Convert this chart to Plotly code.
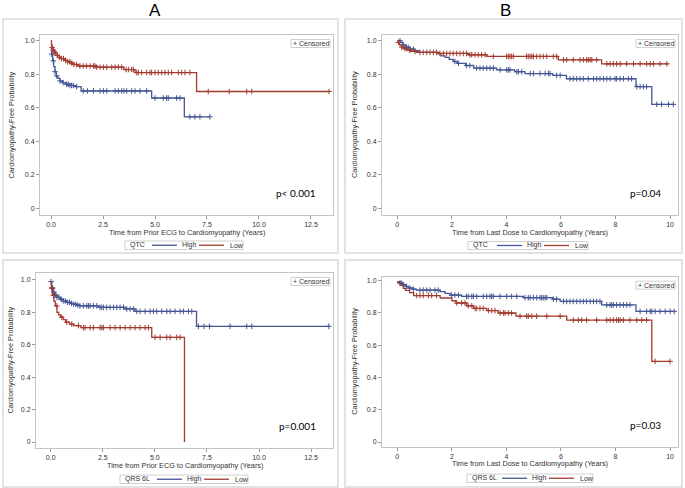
import numpy as np
import plotly.graph_objects as go

W, H = 685, 488
BLUE = "#445694"
RED = "#A23A2E"

# ---------------- data ----------------
# Panel A (top): QTC, time from prior ECG
a1_high_t = [0, 0.03, 0.08, 0.13, 0.19, 0.25, 0.33, 0.43, 0.55, 0.70, 0.90, 1.10, 1.45, 4.84, 6.41, 7.64]
a1_high_s = [0.955, 0.92, 0.88, 0.845, 0.815, 0.79, 0.775, 0.76, 0.75, 0.74, 0.733, 0.726, 0.70, 0.658, 0.546, 0.546]
a1_high_c = [0.03, 0.11, 0.19, 0.27, 0.43, 0.59, 0.75, 0.83, 0.91, 0.99, 1.07, 1.23, 1.55, 1.75, 2.04, 2.36,
             2.52, 2.68, 3.08, 3.24, 3.40, 3.51, 3.64, 3.88, 4.04, 4.28, 4.60, 5.00, 5.40, 5.56, 5.64, 6.04,
             6.20, 6.68, 6.92, 7.16, 7.64]
a1_low_t = [0, 0.02, 0.05, 0.10, 0.15, 0.20, 0.30, 0.40, 0.50, 0.65, 0.80, 0.95, 1.10, 1.30, 2.20, 3.50, 4.04, 7.00, 13.37]
a1_low_s = [1.0, 0.975, 0.96, 0.945, 0.935, 0.925, 0.912, 0.902, 0.893, 0.882, 0.874, 0.866, 0.858, 0.849, 0.842, 0.828, 0.81, 0.697, 0.697]
a1_low_c = [0.05, 0.10, 0.15, 0.20, 0.30, 0.40, 0.50, 0.60, 0.70, 0.80, 0.90, 1.00, 1.10, 1.23, 1.39, 1.55,
            1.71, 1.88, 2.04, 2.12, 2.20, 2.36, 2.52, 2.68, 2.92, 3.08, 3.24, 3.40, 3.61, 3.72, 3.88, 3.96,
            4.12, 4.20, 4.36, 4.60, 4.76, 4.84, 5.00, 5.16, 5.32, 5.48, 5.64, 5.80, 6.12, 6.28, 6.44, 6.68,
            7.56, 8.57, 9.41, 9.65, 13.37]

# Panel A (bottom): QRS 6L, time from prior ECG
a2_high_t = [0, 0.05, 0.12, 0.20, 0.30, 0.45, 0.60, 0.77, 0.95, 1.10, 1.25, 1.40, 2.30, 3.57, 4.05, 7.00, 13.35]
a2_high_s = [0.99, 0.95, 0.925, 0.907, 0.893, 0.881, 0.871, 0.862, 0.855, 0.85, 0.845, 0.84, 0.831, 0.821, 0.806, 0.714, 0.714]
a2_high_c = [0.02, 0.06, 0.10, 0.15, 0.20, 0.25, 0.30, 0.40, 0.50, 0.60, 0.70, 0.80, 0.90, 1.00, 1.10, 1.20,
             1.30, 1.40, 1.57, 1.73, 1.81, 1.89, 2.05, 2.21, 2.37, 2.45, 2.53, 2.69, 2.85, 3.01, 3.17, 3.33,
             3.49, 3.65, 3.81, 3.97, 4.13, 4.29, 4.53, 4.77, 4.93, 5.09, 5.33, 5.57, 5.73, 5.97, 6.21, 6.37,
             6.61, 6.77, 7.09, 7.36, 7.62, 8.61, 9.41, 9.65, 13.35]
a2_low_t = [0, 0.03, 0.08, 0.15, 0.22, 0.30, 0.38, 0.47, 0.60, 0.72, 0.90, 1.10, 1.45, 4.85, 6.42]
a2_low_s = [0.99, 0.95, 0.905, 0.87, 0.84, 0.80, 0.785, 0.77, 0.755, 0.74, 0.728, 0.718, 0.706, 0.646, 0.0]
a2_low_c = [0.05, 0.13, 0.29, 0.53, 0.77, 1.01, 1.33, 1.57, 1.65, 1.89, 2.05, 2.37, 2.45, 2.53, 2.85, 3.09,
            3.33, 3.57, 3.81, 4.05, 4.29, 4.53, 4.69, 5.01, 5.25, 5.57, 5.73, 6.05, 6.21]

# Panel B (top): QTC, time from last dose
b1_high_t = [0, 0.12, 0.20, 0.30, 0.45, 0.60, 0.80, 1.50, 1.60, 1.75, 1.90, 2.05, 2.20, 2.50, 2.80, 3.64,
             4.30, 4.68, 5.70, 6.20, 8.75, 9.33, 10.15]
b1_high_s = [1.0, 0.99, 0.975, 0.96, 0.95, 0.94, 0.93, 0.922, 0.91, 0.90, 0.888, 0.876, 0.865, 0.852, 0.836, 0.826,
             0.815, 0.804, 0.793, 0.773, 0.726, 0.62, 0.62]
b1_high_c = [0.10, 0.22, 0.34, 0.40, 0.46, 0.59, 2.11, 2.24, 2.54, 2.66, 2.91, 3.03, 3.15, 3.28, 3.40, 3.52,
             3.77, 4.01, 4.07, 4.13, 4.38, 4.44, 4.56, 4.87, 4.99, 5.23, 5.42, 5.54, 5.60, 5.84, 5.97, 6.33,
             6.45, 6.58, 6.70, 6.82, 7.00, 7.19, 7.31, 7.43, 7.56, 7.68, 7.80, 7.98, 8.04, 8.17, 8.29, 8.47,
             8.59, 8.78, 8.90, 9.02, 9.14, 9.51, 9.69, 9.94, 10.12]
b1_low_t = [0, 0.08, 0.15, 0.25, 0.35, 0.50, 0.70, 1.50, 2.60, 3.28, 5.90, 7.49, 9.94]
b1_low_s = [0.99, 0.975, 0.962, 0.952, 0.943, 0.936, 0.93, 0.924, 0.916, 0.906, 0.886, 0.862, 0.862]
b1_low_c = [0.04, 0.16, 0.28, 0.46, 0.65, 0.83, 0.95, 1.08, 1.20, 1.32, 1.44, 1.56, 1.69, 1.81, 1.93, 2.05,
            2.18, 2.30, 2.42, 2.54, 2.66, 2.73, 2.85, 2.97, 3.09, 3.22, 3.52, 4.01, 4.07, 4.13, 4.19, 4.25,
            4.74, 4.80, 4.87, 4.93, 4.99, 5.11, 5.23, 5.35, 5.48, 5.72, 5.84, 6.09, 6.21, 6.45, 6.70, 6.82,
            6.94, 7.00, 7.07, 7.13, 7.31, 7.68, 7.80, 7.92, 8.04, 8.17, 8.41, 8.66, 8.90, 9.14, 9.27, 9.39,
            9.63, 9.88]

# Panel B (bottom): QRS 6L, time from last dose
b2_high_t = [0, 0.10, 0.20, 0.30, 0.40, 0.55, 0.70, 1.57, 1.75, 1.93, 2.36, 4.62, 5.70, 5.97, 7.49, 8.75, 10.15]
b2_high_s = [0.995, 0.985, 0.975, 0.965, 0.955, 0.948, 0.942, 0.932, 0.922, 0.911, 0.903, 0.895, 0.886, 0.872, 0.85, 0.81, 0.81]
b2_high_c = [0.10, 0.16, 0.22, 0.34, 0.46, 0.59, 0.83, 0.95, 1.08, 1.20, 1.38, 1.50, 1.99, 2.11, 2.24, 2.54,
             2.60, 2.73, 2.79, 2.91, 3.15, 3.28, 3.40, 3.46, 3.52, 3.77, 4.01, 4.19, 4.38, 4.68, 4.80, 4.87,
             4.99, 5.11, 5.23, 5.29, 5.35, 5.42, 5.48, 5.72, 5.84, 6.09, 6.21, 6.33, 6.45, 6.58, 6.70, 6.82,
             6.94, 7.07, 7.19, 7.31, 7.43, 7.68, 7.80, 7.86, 7.92, 8.04, 8.17, 8.29, 8.41, 8.53, 8.90, 9.14,
             9.27, 9.33, 9.45, 9.63, 9.82, 10.00, 10.15]
b2_low_t = [0, 0.10, 0.22, 0.30, 0.45, 0.60, 1.57, 2.00, 2.15, 2.54, 2.79, 3.28, 3.70, 4.35, 6.21, 9.33, 10.0]
b2_low_s = [0.99, 0.973, 0.953, 0.94, 0.926, 0.908, 0.893, 0.876, 0.862, 0.845, 0.828, 0.815, 0.80, 0.78, 0.756, 0.50, 0.50]
b2_low_c = [0.71, 0.83, 0.95, 1.14, 1.26, 1.44, 2.18, 2.36, 2.48, 2.60, 2.73, 2.85, 2.91, 3.03, 3.15, 3.34,
            3.46, 3.58, 3.77, 3.89, 3.95, 4.07, 4.19, 4.50, 4.74, 4.80, 4.93, 5.11, 5.48, 5.97, 6.45, 6.64,
            6.76, 6.94, 7.31, 7.68, 7.80, 7.92, 8.04, 8.11, 8.17, 8.29, 8.53, 8.78, 8.96, 9.14, 9.45, 10.0]

y_ticks = [0, 0.2, 0.4, 0.6, 0.8, 1.0]
y_ticktext = ["0", "0.2", "0.4", "0.6", "0.8", "1.0"]
xa_ticks = [0, 2.5, 5.0, 7.5, 10.0, 12.5]
xa_ticktext = ["0.0", "2.5", "5.0", "7.5", "10.0", "12.5"]
xb_ticks = [0, 2, 4, 6, 8, 10]
xb_ticktext = ["0", "2", "4", "6", "8", "10"]

group_names = ["High", "Low"]
p_values = ["p< 0.001", "p=0.04", "p=0.001", "p=0.03"]
legend_titles = ["QTC", "QTC", "QRS 6L", "QRS 6L"]
x_titles = ["Time from Prior ECG to Cardiomyopathy (Years)", "Time from Last Dose to Cardiomyopathy (Years)"]
y_title = "Cardiomyopathy-Free Probability"
panel_letters = ["A", "B"]


def step_at(times, surv, t):
    idx = np.searchsorted(np.asarray(times), np.asarray(t), side="right") - 1
    idx = np.clip(idx, 0, len(surv) - 1)
    return np.asarray(surv)[idx]


def px(x):
    return x / W


def py(y):
    return 1 - y / H


FONT = "Liberation Sans, Arial, sans-serif"

# layout per panel: frame in pixels, axis ranges
panels = [
    dict(ax="", frame=(40, 333, 35, 215), xr=(-0.53, 13.56), yr=(-0.040, 1.034),
         xt=(xa_ticks, xa_ticktext), high=(a1_high_t, a1_high_s, a1_high_c), low=(a1_low_t, a1_low_s, a1_low_c),
         xtitle=x_titles[0], leg=legend_titles[0], p=p_values[0], ytit_x=11.5,
         legbox=(125, 243, 241, 249.5), box=(3, 338, 19, 253)),
    dict(ax="2", frame=(382, 678, 35, 215), xr=(-0.561, 10.29), yr=(-0.040, 1.034),
         xt=(xb_ticks, xb_ticktext), high=(b1_high_t, b1_high_s, b1_high_c), low=(b1_low_t, b1_low_s, b1_low_c),
         xtitle=x_titles[1], leg=legend_titles[1], p=p_values[1], ytit_x=355,
         legbox=(468, 588, 241.5, 249.5), box=(345, 682, 19, 253)),
    dict(ax="3", frame=(36, 333, 273, 448), xr=(-0.706, 13.55), yr=(-0.037, 1.043),
         xt=(xa_ticks, xa_ticktext), high=(a2_high_t, a2_high_s, a2_high_c), low=(a2_low_t, a2_low_s, a2_low_c),
         xtitle=x_titles[0], leg=legend_titles[2], p=p_values[2], ytit_x=10,
         legbox=(120, 248, 475, 483.5), box=(3, 338, 260, 487)),
    dict(ax="4", frame=(382, 678, 276.7, 446.7), xr=(-0.561, 10.29), yr=(-0.029, 1.025),
         xt=(xb_ticks, xb_ticktext), high=(b2_high_t, b2_high_s, b2_high_c), low=(b2_low_t, b2_low_s, b2_low_c),
         xtitle=x_titles[1], leg=legend_titles[3], p=p_values[3], ytit_x=355,
         legbox=(467, 593, 474, 482.5), box=(345, 682, 260, 487)),
]

fig = go.Figure()
shapes = []
annotations = []
layout_axes = {}

for p in panels:
    ax = p["ax"]
    xref, yref = "x" + ax, "y" + ax
    x0, x1, y0, y1 = p["frame"]
    for (t, s, c), name, color in zip([p["high"], p["low"]], group_names, [BLUE, RED]):
        fig.add_trace(go.Scatter(x=t, y=s, mode="lines", line=dict(color=color, width=1.3, shape="hv"),
                                 name=name, showlegend=False, xaxis=xref, yaxis=yref, hoverinfo="skip"))
        fig.add_trace(go.Scatter(x=c, y=step_at(t, s, c), mode="markers",
                                 marker=dict(symbol="cross-thin", size=4, line=dict(color=color, width=1)),
                                 name=name + " censored", showlegend=False, xaxis=xref, yaxis=yref,
                                 hoverinfo="skip"))
    common = dict(showgrid=False, zeroline=False, showline=True, mirror=True, linecolor="#c4c4c4",
                  linewidth=1, ticks="outside", ticklen=3, tickwidth=1, tickcolor="#9a9a9a",
                  tickfont=dict(family=FONT, size=7, color="#333333"))
    layout_axes["xaxis" + ax] = dict(domain=[px(x0), px(x1)], range=list(p["xr"]), anchor=yref,
                                     tickvals=p["xt"][0], ticktext=p["xt"][1], **common)
    layout_axes["yaxis" + ax] = dict(domain=[py(y1), py(y0)], range=list(p["yr"]), anchor=xref,
                                     tickvals=y_ticks, ticktext=y_ticktext, **common)

    # outer panel box
    bx0, bx1, by0, by1 = p["box"]
    shapes.append(dict(type="rect", xref="paper", yref="paper", x0=px(bx0), x1=px(bx1), y0=py(by1), y1=py(by0),
                       line=dict(color="#e2e2e2", width=2), fillcolor="rgba(0,0,0,0)", layer="below"))
    # axis titles
    annotations.append(dict(text=p["xtitle"], xref="paper", yref="paper", x=px((x0 + x1) / 2),
                            y=py(y1 + 17), showarrow=False, xanchor="center", yanchor="middle",
                            font=dict(family=FONT, size=7.3, color="#333333")))
    annotations.append(dict(text=y_title, xref="paper", yref="paper", x=px(p["ytit_x"]),
                            y=py((y0 + y1) / 2), showarrow=False, textangle=-90, xanchor="center",
                            yanchor="middle", font=dict(family=FONT, size=7.3, color="#333333")))
    # p-value
    annotations.append(dict(text=p["p"], xref="paper", yref="paper", x=px(x1 - 15), y=py(y1 - 22),
                            showarrow=False, xanchor="right", yanchor="middle",
                            font=dict(family="Lato, sans-serif", size=10, color="#000000")))
    # censored legend (top-right inside)
    shapes.append(dict(type="rect", xref="paper", yref="paper", x0=px(x1 - 42), x1=px(x1 - 3),
                       y0=py(y0 + 12.5), y1=py(y0 + 4.5), line=dict(color="#cfcfcf", width=1),
                       fillcolor="white"))
    annotations.append(dict(text="+ Censored", xref="paper", yref="paper", x=px(x1 - 22.5), y=py(y0 + 8.5),
                            showarrow=False, xanchor="center", yanchor="middle",
                            font=dict(family=FONT, size=7, color="#333333")))
    # bottom group legend
    lx0, lx1, ly0, ly1 = p["legbox"]
    lyc = (ly0 + ly1) / 2
    shapes.append(dict(type="rect", xref="paper", yref="paper", x0=px(lx0), x1=px(lx1), y0=py(ly1), y1=py(ly0),
                       line=dict(color="#cfcfcf", width=1), fillcolor="white"))
    annotations.append(dict(text=p["leg"], xref="paper", yref="paper", x=px(lx0 + 3), y=py(lyc),
                            showarrow=False, xanchor="left", yanchor="middle",
                            font=dict(family=FONT, size=7, color="#333333")))
    items = [(lx1 - 91, lx1 - 66, lx1 - 63, group_names[0], BLUE),
             (lx1 - 44, lx1 - 19, lx1 - 15, group_names[1], RED)]
    for l0, l1, tx, name, color in items:
        shapes.append(dict(type="line", xref="paper", yref="paper", x0=px(l0), x1=px(l1), y0=py(lyc), y1=py(lyc),
                           line=dict(color=color, width=1.3)))
        annotations.append(dict(text=name, xref="paper", yref="paper", x=px(tx), y=py(lyc), showarrow=False,
                                xanchor="left", yanchor="middle",
                                font=dict(family=FONT, size=7, color="#333333")))

# panel letters
for letter, cx in zip(panel_letters, [155, 505]):
    annotations.append(dict(text=letter, xref="paper", yref="paper", x=px(cx), y=py(10.5), showarrow=False,
                            xanchor="center", yanchor="middle",
                            font=dict(family=FONT, size=17, color="#000000")))

fig.update_layout(width=W, height=H, margin=dict(l=0, r=0, t=0, b=0), paper_bgcolor="white",
                  plot_bgcolor="white", shapes=shapes, annotations=annotations, showlegend=False,
                  **layout_axes)

fig.write_html("out.html", config={"displayModeBar": False},
               post_script="document.body.style.margin='0px';document.body.style.padding='0px';")
